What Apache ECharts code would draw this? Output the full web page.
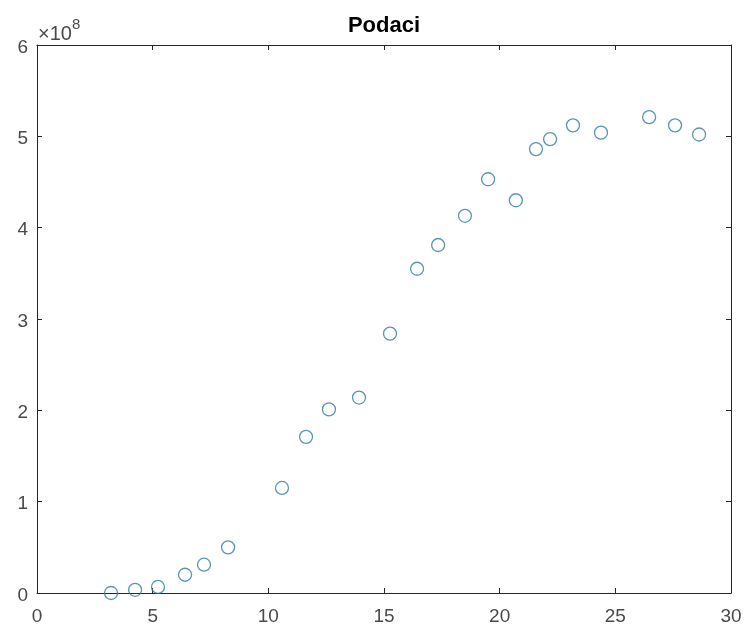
<!DOCTYPE html>
<html>
<head>
<meta charset="utf-8">
<script src="https://cdn.jsdelivr.net/npm/echarts@6/dist/echarts.min.js"></script>
<style>html,body{margin:0;padding:0;background:#fff}#c{width:748px;height:630px}</style>
</head>
<body>
<div id="c"></div>
<script>
const title = 'Podaci';
const xValues = [3.2, 4.24, 5.23, 6.4, 7.22, 8.26, 10.59, 11.63, 12.62, 13.92, 15.26, 16.43, 17.34, 18.5, 19.5, 20.7, 21.57, 22.18, 23.17, 24.38, 26.46, 27.58, 28.62];
const yValues = [0.0e8, 0.035e8, 0.066e8, 0.2e8, 0.31e8, 0.5e8, 1.15e8, 1.71e8, 2.01e8, 2.14e8, 2.84e8, 3.55e8, 3.81e8, 4.13e8, 4.53e8, 4.3e8, 4.86e8, 4.97e8, 5.12e8, 5.04e8, 5.21e8, 5.12e8, 5.02e8];
const xTicks = [0, 5, 10, 15, 20, 25, 30];
const yTicks = [0, 1, 2, 3, 4, 5, 6];
const yScale = 1e8;
const exponentBase = '×10';
const exponentPower = '8';

const points = xValues.map((x, i) => [x, yValues[i]]);
const axisColor = '#262626';
const labelColor = '#4a4a4a';
const font = 'Liberation Sans, Arial, sans-serif';

const chart = echarts.init(document.getElementById('c'), null, {renderer: 'canvas'});
const baseX = {
  type: 'value', min: xTicks[0], max: xTicks[xTicks.length - 1], interval: 5,
  axisLine: {show: true, onZero: false, lineStyle: {color: axisColor, width: 1}},
  axisTick: {show: true, inside: true, length: 5, lineStyle: {color: axisColor}},
  splitLine: {show: false}
};
const baseY = {
  type: 'value', min: yTicks[0] * yScale, max: yTicks[yTicks.length - 1] * yScale, interval: yScale,
  axisLine: {show: true, onZero: false, lineStyle: {color: axisColor, width: 1}},
  axisTick: {show: true, inside: true, length: 5, lineStyle: {color: axisColor}},
  splitLine: {show: false}
};
chart.setOption({
  animation: false,
  backgroundColor: '#ffffff',
  title: {
    text: title, left: 384, top: 15, textAlign: 'center', padding: 0,
    textStyle: {fontFamily: font, fontSize: 22, fontWeight: 'bold', color: '#000'}
  },
  grid: {left: 37, right: 17, top: 45, bottom: 37, containLabel: false},
  xAxis: [
    Object.assign({}, baseX, {position: 'bottom',
      axisLabel: {show: true, margin: 14, color: labelColor, fontFamily: font, fontSize: 19}}),
    Object.assign({}, baseX, {position: 'top', axisLabel: {show: false}})
  ],
  yAxis: [
    Object.assign({}, baseY, {position: 'left',
      axisLabel: {show: true, margin: 9, color: labelColor, fontFamily: font, fontSize: 19,
        verticalAlign: 'top', padding: [-7, 0, 0, 0],
        formatter: v => String(Math.round(v / yScale))}}),
    Object.assign({}, baseY, {position: 'right', axisLabel: {show: false}})
  ],
  graphic: [
    {type: 'text', left: 38, top: 24,
      style: {text: exponentBase, fontFamily: font, fontSize: 20, fill: labelColor}},
    {type: 'text', left: 72, top: 17,
      style: {text: exponentPower, fontFamily: font, fontSize: 15, fill: labelColor}}
  ],
  series: [{
    type: 'scatter',
    data: points,
    symbol: 'circle',
    symbolSize: 13,
    itemStyle: {color: 'rgba(255,255,255,0)', borderColor: '#2f7a9c', borderWidth: 1.3}
  }]
});
</script>
</body>
</html>
